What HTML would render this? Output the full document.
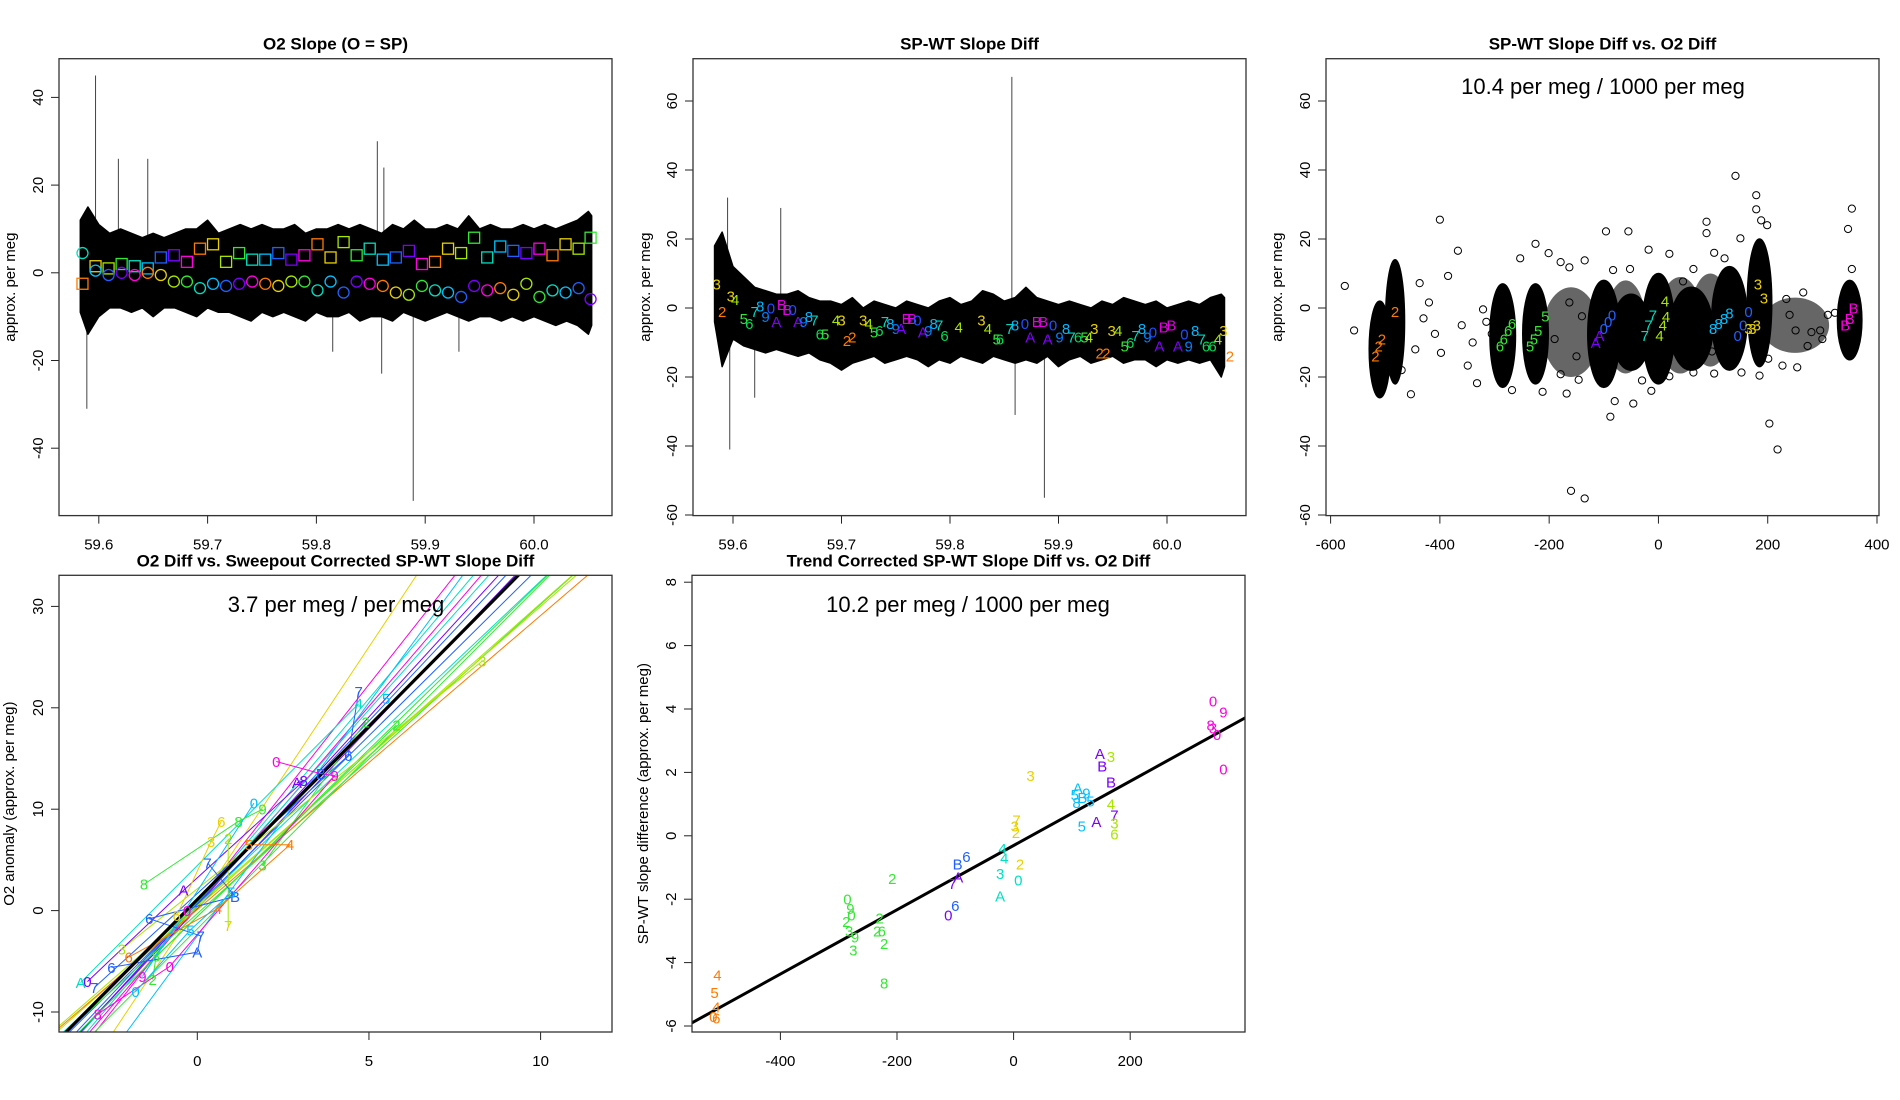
<!DOCTYPE html>
<html><head><meta charset="utf-8"><style>
html,body{margin:0;padding:0;background:#fff;overflow:hidden;width:1900px;height:1100px;}
svg{display:block;font-family:"Liberation Sans",sans-serif;}
</style></head><body>
<svg id="c" width="1900" height="1100" viewBox="0 0 1900 1100" xmlns="http://www.w3.org/2000/svg"></svg>
<script>
// ---------- DATA ----------
const bandT = [59.583,59.59,59.6,59.61,59.62,59.63,59.64,59.65,59.66,59.67,59.68,59.69,59.7,59.71,59.72,59.73,59.74,59.75,59.76,59.77,59.78,59.79,59.8,59.81,59.82,59.83,59.84,59.85,59.86,59.87,59.88,59.89,59.9,59.91,59.92,59.93,59.94,59.95,59.96,59.97,59.98,59.99,60.0,60.01,60.02,60.03,60.04,60.05,60.053];
const upper1 = [12,15,11,9,10,9,8,9,8,9,10,10,12,9,10,11,10,11,10,10,11,9,10,10,11,10,11,10,9,11,10,12,10,10,11,10,13,10,11,10,10,11,10,11,10,11,12,14,13];
const lower1 = [-9,-14,-10,-8,-8,-9,-8,-10,-8,-8,-9,-10,-8,-9,-9,-10,-11,-9,-10,-9,-10,-11,-9,-10,-10,-9,-11,-10,-10,-11,-9,-10,-11,-10,-9,-10,-11,-10,-10,-11,-10,-11,-10,-11,-12,-11,-12,-14,-12];
const upper2 = [18,22,12,9,6,5,4,4,5,3,2,2,1,3,0,2,1,0,2,1,0,2,3,1,2,5,4,2,3,6,3,2,1,2,1,0,2,1,3,2,1,2,0,1,2,1,3,4,3];
const lower2 = [-4,-17,-9,-11,-12,-13,-12,-13,-14,-13,-15,-16,-18,-16,-15,-14,-16,-15,-14,-15,-17,-15,-16,-14,-15,-16,-14,-15,-16,-15,-16,-14,-17,-15,-14,-16,-15,-14,-16,-15,-15,-17,-15,-16,-15,-16,-15,-20,-17];
const spike1T = [59.589,59.597,59.618,59.645,59.815,59.856,59.86,59.862,59.889,59.931];
const spike1V = [-31,45,26,26,-18,30,-23,24,-52,-18];
const spike2T = [59.595,59.597,59.62,59.644,59.857,59.86,59.887];
const spike2V = [32,-41,-26,29,67,-31,-55];
const markT = [59.585,59.597,59.609,59.621,59.633,59.645,59.657,59.669,59.681,59.693,59.705,59.717,59.729,59.741,59.753,59.765,59.777,59.789,59.801,59.813,59.825,59.837,59.849,59.861,59.873,59.885,59.897,59.909,59.921,59.933,59.945,59.957,59.969,59.981,59.993,60.005,60.017,60.029,60.041,60.052];
const squareV = [-2.5,1.5,1,2,1.5,1,3.5,4,2.5,5.5,6.5,2.5,4.5,3,3,4.5,3,4,6.5,3.5,7,4,5.5,3,3.5,5,2,2.5,5.5,4.5,8,3.5,6,5,4.5,5.5,4,6.5,5.5,8];
const circleV = [4.5,0.5,-0.5,0,-0.5,0,-0.5,-2,-2,-3.5,-2.5,-3,-2.5,-2,-2.5,-3,-2,-2,-4,-2,-4.5,-2,-2.5,-3,-4.5,-5,-3,-4,-4.5,-5.5,-3,-4,-3.5,-5,-2.5,-5.5,-4,-4.5,-3.5,-6];
const lab2T = [59.585,59.59,59.598,59.602,59.61,59.615,59.62,59.625,59.63,59.635,59.64,59.645,59.65,59.655,59.66,59.665,59.67,59.675,59.68,59.685,59.695,59.7,59.705,59.71,59.72,59.725,59.73,59.735,59.74,59.745,59.75,59.755,59.76,59.765,59.77,59.775,59.78,59.785,59.79,59.795,59.808,59.829,59.835,59.843,59.846,59.855,59.86,59.869,59.874,59.88,59.886,59.89,59.895,59.901,59.907,59.912,59.918,59.924,59.928,59.933,59.938,59.944,59.949,59.955,59.961,59.966,59.971,59.977,59.982,59.987,59.993,59.997,60.004,60.01,60.016,60.02,60.026,60.032,60.036,60.042,60.047,60.052,60.058];
const lab2V = [7,-1,3.5,2.5,-3,-4.5,-1,0.5,-2.5,0,-4,1,-0.5,-0.5,-4,-4,-2.5,-3.5,-7.5,-7.5,-3.5,-3.5,-9.5,-8.5,-3.5,-4.5,-7,-6.5,-4,-4.5,-6,-6,-3,-3,-3.5,-7,-6.5,-4.5,-5,-8,-5.5,-3.5,-6,-9,-9,-6,-5,-4.5,-8.5,-4,-4,-9,-5,-8.5,-6,-8.5,-8.5,-8.5,-8.5,-6,-13,-13,-6.5,-6.5,-11,-10,-8,-6,-8.5,-7,-11,-5.5,-5,-11,-7.5,-11,-6.5,-9,-11,-11,-9,-6.5,-14];
const lab2C = ["3","2","3","4","5","6","7","8","9","0","A","B","B","0","A","9","8","7","6","5","4","3","2","2","3","4","5","6","7","8","9","A","B","B","0","A","9","8","7","6","4","3","4","5","6","7","8","0","A","B","B","A","0","9","8","7","6","5","4","3","2","2","3","4","5","6","7","8","9","0","A","B","B","A","0","9","8","7","6","6","4","3","2"];
const cloudX = [-160,-60,40,95,250];
const cloudHW = [45,30,35,30,55];
const cloudLo = [-20,-19,-19,-17,-13];
const cloudHi = [6,8,9,10,3];
const clX = [-510,-482,-285,-225,-100,-50,0,60,130,185,350];
const clHW = [12,10,16,16,22,28,22,32,25,15,15];
const clLo = [-26,-22,-23,-22,-23,-18,-22,-18,-18,-17,-15];
const clHi = [2,14,7,7,8,4,10,6,12,20,8];
const outX = [-574,-557,-400,-367,-385,-437,-420,-409,-398,-453,-332,-349,-360,-321,-305,-253,-225,-201,-179,-163,-135,-96,-55,-83,-80,-88,-46,-160,-135,-52,-18,20,-13,45,64,88,88,102,121,141,150,179,179,188,199,203,218,234,265,251,227,254,273,296,323,354,347,354,98,152,185,201,-168,-212,-268,-146,-179,20,64,102,-140,-163,-52,-46,42,70,75,-430,-470,-445,-340,-315,-190,-150,-60,-30,140,240,280,310,300];
const outY = [6.4,-6.5,25.6,16.6,9.3,7.2,1.6,-7.5,-13,-25,-21.8,-16.7,-5,-0.4,-7.5,14.4,18.6,15.9,13.3,11.8,13.8,22.2,22.2,11,-27,-31.5,-27.7,-53,-55.2,11.3,16.9,15.7,-24,7.7,11.3,25,21.7,16,14.4,38.3,20.2,32.7,28.6,25.4,24,-33.5,-41,2.6,4.5,-6.5,-16.7,-17.2,-11,-6.5,-1.4,28.8,22.9,11.3,-12.6,-18.7,-19.6,-14.7,-24.8,-24.3,-23.8,-20.8,-19.2,-19.8,-18.7,-19,-2.4,1.6,-7.5,-0.4,-2.4,-0.4,-8.5,-3,-18,-12,-10,-4,-9,-14,-12,-21,-5,-2,-7,-2,-9];
const lab3X = [-518,-512,-506,-482,-290,-283,-275,-268,-235,-228,-220,-207,-115,-108,-100,-92,-85,-25,-18,-10,2,8,14,12,100,110,120,130,145,155,165,165,172,180,182,193,342,350,357];
const lab3Y = [-14,-11,-9,-1,-11,-9,-6.5,-4.5,-11,-9,-6.5,-2.4,-10,-8,-6,-4,-2,-8,-5,-2,-8,-5,-2.5,2,-6,-4.5,-3,-1.5,-8,-5,-1,-6,-6,-5,7,2.8,-5,-3,0];
const lab3C = ["2","2","2","2","6","6","6","6","5","5","5","5","A","A","0","0","0","7","7","7","4","4","4","4","8","8","8","8","0","0","0","3","3","3","3","3","B","B","B"];
const lab3G = [0,0,0,0,3,3,3,3,3,3,3,3,7,7,6,6,6,4,4,4,2,2,2,2,5,5,5,5,6,6,6,1,1,1,1,1,8,8,8];
const lineSlope = [5.1,4.3,4.0,3.95,3.8,3.7,3.6,3.55,3.35,3.3,3.2,3.05,3.0,2.95,2.9,3.4,4.6];
const lineInt = [0.5,0.8,0.9,0.4,0.8,0.6,0.7,0.2,0.5,-0.6,0.5,-0.3,0.3,0.5,0.1,-1.8,-2.5];
const lineG = [1,8,4,8,4,7,6,7,6,3,4,3,2,2,0,3,5];
const blackSlope = 3.42, blackInt = 1.09;
const p4X = [4.7,4.7,5.5,5.8,4.9,8.3,4.4,2.3,3.6,4.0,2.9,3.1,1.65,1.9,0.7,1.2,0.4,0.9,1.5,2.7,1.9,0.3,-1.55,-0.4,1.1,1.0,-1.4,-0.2,0.1,0,-0.8,-2.5,-3.4,-3.2,-2.9,-1.2,-1.6,-0.6,-0.3,0.6,0.9,-2.0,-1.8,-3.0,-1.3,-2.2];
const p4Y = [21.6,20.4,20.9,18.3,18.6,24.6,15.3,14.7,13.5,13.3,12.6,12.8,10.6,10.0,8.8,8.8,6.8,7.1,6.5,6.5,4.5,4.7,2.6,2.0,1.4,1.8,-0.8,-1.9,-2.5,-4.1,-5.5,-5.6,-7.1,-7.0,-10.2,-4.5,-6.5,-0.5,0,0.2,-1.5,-4.6,-8,-7.6,-6.8,-3.8];
const p4C = ["7","4","5","2","2","3","6","0","B","9","A","8","0","9","6","8","3","2","5","4","3","7","8","A","B","5","6","5","7","A","0","6","A","0","8","8","9","6","0","4","7","6","0","7","2","3"];
const p4G = [6,4,5,3,3,2,6,8,6,8,7,7,5,3,1,3,1,2,0,0,3,6,3,7,6,5,6,5,6,6,8,6,4,7,8,3,8,1,8,0,1,0,5,6,3,2];
const p4S = [0,1,2,3,4,5,0,6,6,6,7,7,8,9,10,9,10,11,12,12,4,13,9,7,13,14,13,14,13,13,6,13,1,7,6,3,8,10,8,12,11,12,14,0,3,5];
const p5X = [342,360,338,342,349,360,148,152,167,29,167,167,105,110,118,125,108,132,117,142,173,173,173,5,2,4,-19,-16,-23,8,11,-23,-96,-81,-95,-105,-112,-100,-208,-285,-280,-287,-282,-278,-272,-275,-230,-226,-234,-222,-222,-508,-513,-510,-515,-510];
const p5Y = [4.25,3.9,3.5,3.4,3.2,2.1,2.6,2.2,2.5,1.9,1.7,1.0,1.3,1.5,1.2,1.35,1.05,1.1,0.3,0.45,0.65,0.4,0.05,0.5,0.3,0.1,-0.4,-0.7,-1.2,-1.4,-0.9,-1.9,-0.9,-0.65,-1.3,-1.5,-2.5,-2.2,-1.35,-2.0,-2.3,-2.7,-3.0,-2.5,-3.2,-3.6,-2.6,-3.0,-3.0,-3.4,-4.65,-4.4,-4.95,-5.4,-5.7,-5.75];
const p5C = ["0","9","8","3","0","0","A","B","3","3","B","4","5","A","B","9","8","5","5","A","7","3","6","7","3","2","4","4","3","0","2","A","B","6","A","7","0","6","2","0","9","2","3","0","9","3","2","6","2","2","8","4","5","4","0","6"];
const p5G = [8,8,8,8,8,8,7,7,2,1,7,2,5,5,5,5,5,5,5,7,7,2,2,1,1,1,4,4,4,4,1,4,6,6,7,7,7,6,3,3,3,3,3,3,3,3,3,3,3,3,3,0,0,0,0,0];
const p5Slope = 0.01014, p5Int = -0.306;

// ---------- STYLE ----------
const pal = ["#FF7A00","#E8D000","#A8E600","#33E833","#00E0C0","#00C0FF","#2060FF","#7A00FF","#FF00E0"];
const charCol = {"2":"#FF7A00","3":"#E8D000","4":"#A8E600","5":"#33E833","6":"#00DD55","7":"#00D8C0","8":"#00B8FF","9":"#0080FF","0":"#2050FF","A":"#8000FF","B":"#E000E0"};
const NS = "http://www.w3.org/2000/svg";
const svg = document.getElementById("c");
function mk(tag, attrs, parent, text){
  const e = document.createElementNS(NS, tag);
  for (const k in attrs) e.setAttribute(k, attrs[k]);
  if (text !== undefined) e.textContent = text;
  (parent || svg).appendChild(e);
  return e;
}
function lin(v0,p0,v1,p1){ return v => p0 + (v - v0) * (p1 - p0) / (v1 - v0); }

function panel(name, box, sx, sy, xt, xl, yt, title, ytitle, ytx){
  const g = mk("g", {});
  
  
  const t = mk("text", {x:(box[0]+box[1])/2, y:box[2]-9, "text-anchor":"middle", "font-size":"17", "font-weight":"bold"}, g, title);
  
  
  const xa = mk("g", {}, g);
  
  
  mk("line", {x1:sx(xt[0]), x2:sx(xt[xt.length-1]), y1:box[3], y2:box[3], stroke:"#222"}, xa);
  xt.forEach((v,i) => {
    mk("line", {x1:sx(v), x2:sx(v), y1:box[3], y2:box[3]+8, stroke:"#222"}, xa);
    const l = mk("text", {x:sx(v), y:box[3]+34, "text-anchor":"middle", "font-size":"15"}, xa, xl[i]);
    
    
  });
  const ya = mk("g", {}, g);
  
  
  mk("line", {x1:box[0], x2:box[0], y1:sy(yt[0]), y2:sy(yt[yt.length-1]), stroke:"#222"}, ya);
  yt.forEach(v => {
    mk("line", {x1:box[0]-8, x2:box[0], y1:sy(v), y2:sy(v), stroke:"#222"}, ya);
    const xx = box[0]-16, yy = sy(v);
    const l = mk("text", {x:xx, y:yy, "text-anchor":"middle", "font-size":"15", transform:`rotate(-90 ${xx} ${yy})`}, ya, String(v));
    
    
  });
  const yx = ytx, yy = (box[2]+box[3])/2;
  const ylab = mk("text", {x:yx, y:yy, "text-anchor":"middle", "font-size":"15", transform:`rotate(-90 ${yx} ${yy})`}, g, ytitle);
  
  
  const clipId = name + "-clip";
  const cp = mk("clipPath", {id:clipId}, g);
  mk("rect", {x:box[0], y:box[2], width:box[1]-box[0], height:box[3]-box[2]}, cp);
  const plot = mk("g", {"clip-path":`url(#${clipId})`}, g);
  
  
  const fr = mk("rect", {x:box[0], y:box[2], width:box[1]-box[0], height:box[3]-box[2], fill:"none", stroke:"#333", "stroke-width":"1.3"}, g);
  
  
  return plot;
}
function band(plot, sx, sy, T, U, L, name){
  let d = "M" + T.map((t,i)=> sx(t)+","+sy(U[i])).join(" L");
  for (let i=T.length-1;i>=0;i--) d += " L" + sx(T[i]) + "," + sy(L[i]);
  const p = mk("path", {d:d+"Z", fill:"#000", stroke:"#000", "stroke-width":"1.5", "stroke-linejoin":"round"}, plot);
  
  
}
function spikes(plot, sx, sy, T, V){
  T.forEach((t,i) => {
    const s = mk("line", {x1:sx(t), x2:sx(t), y1:sy(0), y2:sy(V[i]), stroke:"#444", "stroke-width":"1"}, plot);
    
    
  });
}
function label(plot, x, y, ch, col, size){
  const t = mk("text", {x:x, y:y+size*0.36, "text-anchor":"middle", "font-size":size, fill:col}, plot, ch);
  
  
}

// ---------- Panel 1 ----------
{
  const box = [59,612,58.7,515.6];
  const sx = lin(59.6,98.8,60.0,534), sy = lin(0,272.8,40,97.4);
  const p = panel("o2-slope-panel", box, sx, sy, [59.6,59.7,59.8,59.9,60.0], ["59.6","59.7","59.8","59.9","60.0"], [-40,-20,0,20,40], "O2 Slope (O = SP)", "approx. per meg", 15);
  spikes(p, sx, sy, spike1T, spike1V);
  band(p, sx, sy, bandT, upper1, lower1, "o2-slope-band");
  markT.forEach((t,i) => {
    const col = pal[i % pal.length];
    const s = mk("rect", {x:sx(t)-5.5, y:sy(squareV[i])-5.5, width:11, height:11, fill:"none", stroke:col, "stroke-width":"1.3"}, p);
    
    
    const c = mk("circle", {cx:sx(t), cy:sy(circleV[i]), r:5.5, fill:"none", stroke:pal[(i+4) % pal.length], "stroke-width":"1.3"}, p);
    
    
  });
}
// ---------- Panel 2 ----------
{
  const box = [693,1246,58.7,515.6];
  const sx = lin(59.6,733,60.0,1167), sy = lin(0,308,60,101);
  const p = panel("sp-wt-slope-diff-panel", box, sx, sy, [59.6,59.7,59.8,59.9,60.0], ["59.6","59.7","59.8","59.9","60.0"], [-60,-40,-20,0,20,40,60], "SP-WT Slope Diff", "approx. per meg", 650);
  spikes(p, sx, sy, spike2T, spike2V);
  band(p, sx, sy, bandT, upper2, lower2, "sp-wt-band");
  lab2T.forEach((t,i) => label(p, sx(t), sy(lab2V[i]), lab2C[i], charCol[lab2C[i]], 15));
}
// ---------- Panel 3 ----------
{
  const box = [1326,1879,58.7,515.6];
  const sx = lin(-600,1330.6,400,1877), sy = lin(0,308,60,101);
  const p = panel("slope-vs-o2-diff-panel", box, sx, sy, [-600,-400,-200,0,200,400], ["-600","-400","-200","0","200","400"], [-60,-40,-20,0,20,40,60], "SP-WT Slope Diff vs. O2 Diff", "approx. per meg", 1282);
  const ann = mk("text", {x:1603, y:94, "text-anchor":"middle", "font-size":"22"}, svg, "10.4 per meg / 1000 per meg");
  
  
  cloudX.forEach((x,i) => {
    const top = sy(cloudHi[i]), bot = sy(cloudLo[i]);
    const e = mk("ellipse", {cx:sx(x), cy:(top+bot)/2, rx:cloudHW[i]*0.5467 + 4, ry:(bot-top)/2, fill:"#333", "fill-opacity":"0.75", stroke:"none"}, p);
    
    
  });
  clX.forEach((x,i) => {
    const cx = sx(x), rx = clHW[i]*0.5467 + 4;
    const top = sy(clHi[i]), bot = sy(clLo[i]);
    const e = mk("ellipse", {cx:cx, cy:(top+bot)/2, rx:rx, ry:(bot-top)/2, fill:"#000", stroke:"#000", "stroke-width":"1.5"}, p);
    
    
  });
  outX.forEach((x,i) => {
    const c = mk("circle", {cx:sx(x), cy:sy(outY[i]), r:3.6, fill:"none", stroke:"#000", "stroke-width":"1"}, p);
    
    
  });
  lab3X.forEach((x,i) => label(p, sx(x), sy(lab3Y[i]), lab3C[i], pal[lab3G[i]], 15));
}
// ---------- Panel 4 ----------
{
  const box = [59,612,575.3,1032];
  const sx = lin(0,197.3,10,540.6), sy = lin(0,910.6,30,606.4);
  const p = panel("o2-diff-vs-corrected-panel", box, sx, sy, [0,5,10], ["0","5","10"], [-10,0,10,20,30], "O2 Diff vs. Sweepout Corrected SP-WT Slope Diff", "O2 anomaly (approx. per meg)", 14);
  const ann = mk("text", {x:336, y:612, "text-anchor":"middle", "font-size":"22"}, svg, "3.7 per meg / per meg");
  
  
  lineSlope.forEach((b,i) => {
    const l = mk("line", {x1:sx(-5), y1:sy(lineInt[i] + b*-5), x2:sx(13), y2:sy(lineInt[i] + b*13), stroke:pal[lineG[i]], "stroke-width":"1"}, p);
    
    
  });
  const seriesIds = [...new Set(p4S)];
  seriesIds.forEach(s => {
    const idx = p4S.map((v,i)=>v===s?i:-1).filter(i=>i>=0);
    if (idx.length < 2) return;
    const pl = mk("polyline", {points: idx.map(i=>sx(p4X[i])+","+sy(p4Y[i])).join(" "), fill:"none", stroke:pal[p4G[idx[0]]], "stroke-width":"1"}, p);
    
    
  });
  const bl = mk("line", {x1:sx(-5), y1:sy(blackInt + blackSlope*-5), x2:sx(13), y2:sy(blackInt + blackSlope*13), stroke:"#000", "stroke-width":"3.2"}, p);
  
  
  p4X.forEach((x,i) => label(p, sx(x), sy(p4Y[i]), p4C[i], pal[p4G[i]], 15));
}
// ---------- Panel 5 ----------
{
  const box = [692,1245,575.3,1032];
  const sx = lin(0,1013.6,200,1130.2), sy = lin(0,835.8,2,772.4);
  const p = panel("trend-corrected-panel", box, sx, sy, [-400,-200,0,200], ["-400","-200","0","200"], [-6,-4,-2,0,2,4,6,8], "Trend Corrected SP-WT Slope Diff vs. O2 Diff", "SP-WT slope difference (approx. per meg)", 648);
  const ann = mk("text", {x:968, y:612, "text-anchor":"middle", "font-size":"22"}, svg, "10.2 per meg / 1000 per meg");
  
  
  const fl = mk("line", {x1:sx(-600), y1:sy(p5Int + p5Slope*-600), x2:sx(450), y2:sy(p5Int + p5Slope*450), stroke:"#000", "stroke-width":"3"}, p);
  
  
  p5X.forEach((x,i) => label(p, sx(x), sy(p5Y[i]), p5C[i], pal[p5G[i]], 15));
}
</script>
</body></html>
